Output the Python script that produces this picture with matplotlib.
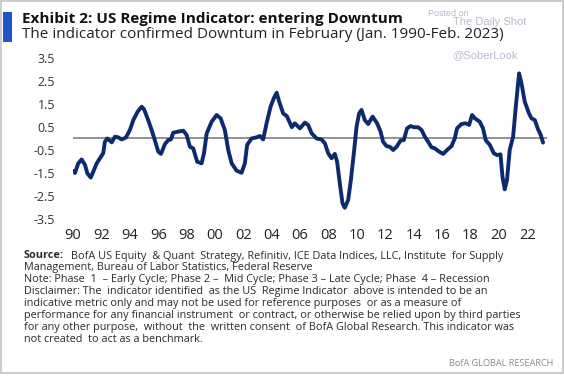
import matplotlib
matplotlib.use('Agg')
import matplotlib.pyplot as plt
from matplotlib.patches import Rectangle

plt.rcParams['font.family'] = 'Open Sans'

# US Regime Indicator (decimal year, value)
years = [1990.00, 1990.14, 1990.37, 1990.61, 1990.85, 1991.01, 1991.25, 1991.43, 1991.67, 1991.90,
         1992.13, 1992.25, 1992.42, 1992.73, 1992.96, 1993.19, 1993.43, 1993.73, 1994.01, 1994.25,
         1994.56, 1994.84, 1995.00, 1995.30, 1995.54, 1995.73, 1996.01, 1996.20, 1996.48, 1996.71,
         1996.90, 1997.06, 1997.42, 1997.77, 1998.01, 1998.24, 1998.47, 1998.75, 1999.06, 1999.23,
         1999.42, 1999.77, 2000.12, 2000.40, 2000.70, 2000.94, 2001.18, 2001.53, 2001.88, 2002.11,
         2002.27, 2002.58, 2002.94, 2003.17, 2003.40, 2003.64, 2003.92, 2004.15, 2004.35, 2004.53,
         2004.81, 2005.07, 2005.42, 2005.63, 2005.99, 2006.34, 2006.57, 2006.81, 2007.16, 2007.51,
         2007.75, 2007.98, 2008.22, 2008.45, 2008.61, 2008.80, 2008.99, 2009.15, 2009.39, 2009.58,
         2009.79, 2009.98, 2010.16, 2010.33, 2010.56, 2010.80, 2011.11, 2011.43, 2011.67, 2011.85,
         2012.09, 2012.32, 2012.56, 2012.80, 2013.08, 2013.31, 2013.54, 2013.78, 2014.04, 2014.32,
         2014.56, 2014.79, 2015.02, 2015.26, 2015.49, 2015.80, 2016.08, 2016.36, 2016.67, 2016.90,
         2017.06, 2017.37, 2017.68, 2017.91, 2018.12, 2018.31, 2018.66, 2018.89, 2019.08, 2019.37,
         2019.65, 2019.88, 2020.12, 2020.26, 2020.42, 2020.58, 2020.77, 2021.01, 2021.20, 2021.43,
         2021.60, 2021.83, 2022.13, 2022.30, 2022.54, 2022.77, 2022.96, 2023.12]
indicator = [-1.41, -1.50, -1.08, -0.91, -1.15, -1.51, -1.70, -1.44, -1.08, -0.86,
             -0.64, -0.14, 0.00, -0.17, 0.08, 0.05, -0.04, 0.04, 0.37, 0.80,
             1.17, 1.38, 1.28, 0.80, 0.37, 0.00, -0.57, -0.67, -0.24, -0.07,
             -0.04, 0.25, 0.30, 0.34, 0.15, -0.36, -0.43, -1.01, -1.08, -0.64,
             0.22, 0.73, 1.02, 0.88, 0.37, -0.50, -1.08, -1.40, -1.49, -1.08,
             -0.28, 0.00, 0.05, 0.11, -0.04, 0.66, 1.38, 1.75, 1.99, 1.60,
             1.09, 0.97, 0.49, 0.66, 0.44, 0.69, 0.59, 0.23, 0.00, -0.04,
             -0.21, -0.64, -0.86, -0.67, -1.01, -1.95, -2.82, -3.01, -2.67, -1.80,
             -0.64, 0.51, 1.09, 1.24, 0.80, 0.63, 0.95, 0.66, 0.30, -0.14,
             -0.33, -0.36, -0.50, -0.36, -0.09, -0.07, 0.44, 0.54, 0.49, 0.49,
             0.37, 0.08, -0.14, -0.38, -0.43, -0.57, -0.67, -0.50, -0.33, 0.00,
             0.44, 0.63, 0.66, 0.59, 1.02, 0.88, 0.73, 0.44, -0.07, -0.28,
             -0.64, -0.72, -0.69, -1.66, -2.21, -1.80, -0.50, 0.08, 1.38, 2.83,
             2.40, 1.60, 1.09, 0.88, 0.80, 0.40, 0.15, -0.18]

ytick_vals = [3.5, 2.5, 1.5, 0.5, -0.5, -1.5, -2.5, -3.5]
xtick_years = list(range(1990, 2023, 2))
xtick_labels = [f'{y % 100:02d}' for y in xtick_years]

LINE_COLOR = '#0c2b6e'
TEXT_COLOR = '#2b2b2b'

fig = plt.figure(figsize=(5.64, 3.76), dpi=100)

# outer frame and blue tag
fig.patches.append(Rectangle((0.002, 0.008), 0.996, 0.99, transform=fig.transFigure,
                             fill=False, edgecolor='#c4c4c4', linewidth=1.2))
fig.patches.append(Rectangle((3 / 564, 1 - 42 / 376), 9 / 564, 30 / 376, transform=fig.transFigure,
                             facecolor='#1f55c8', edgecolor='none'))

ax = fig.add_axes([0.1294, 0.4114, 0.8405, 0.4405])
ax.plot(years, indicator, color=LINE_COLOR, linewidth=2.8, solid_capstyle='round',
        solid_joinstyle='round', zorder=3)
ax.axhline(0, color='#7f7f7f', linewidth=1.2, zorder=2)

ax.set_xlim(1990, 2023.4)
ax.set_ylim(-3.6, 3.6)
ax.set_yticks(ytick_vals)
ax.set_yticklabels([f'{v:.1f}' for v in ytick_vals])
ax.set_xticks(xtick_years)
ax.set_xticklabels(xtick_labels)
ax.tick_params(axis='y', length=0, pad=13, labelsize=9, labelcolor='#333333')
ax.tick_params(axis='x', length=0, pad=5, labelsize=10.5, labelcolor='#222222')
for s in ax.spines.values():
    s.set_visible(False)

# titles
fig.text(22 / 564, 1 - 19 / 376, 'Exhibit 2: US Regime Indicator: entering Downtum',
         fontsize=11, fontweight='bold', color='#111111', va='center')
fig.text(22 / 564, 1 - 35 / 376, 'The indicator confirmed Downtum in February (Jan. 1990-Feb. 2023)',
         fontsize=11, color='#222222', va='center')

# watermark
wm = '#b4bccb'
fig.text(428 / 564, 1 - 13 / 376, 'Posted on', fontsize=6.5, color=wm, va='center',
         family='Liberation Sans')
fig.text(453 / 564, 1 - 22 / 376, 'The Daily Shot', fontsize=8, color=wm, va='center',
         family='Liberation Sans')
fig.text(452 / 564, 1 - 55 / 376, '@SoberLook', fontsize=8, color=wm, va='center',
         family='Liberation Sans')

# footnotes
notes = [
    'Management, Bureau of Labor Statistics, Federal Reserve',
    'Note: Phase  1  \u2013 Early Cycle; Phase 2 \u2013  Mid Cycle; Phase 3 \u2013 Late Cycle; Phase  4 \u2013 Recession',
    'Disclaimer: The  indicator identified  as the US  Regime Indicator  above is intended to be an',
    'indicative metric only and may not be used for reference purposes  or as a measure of',
    'performance for any financial instrument  or contract, or otherwise be relied upon by third parties',
    'for any other purpose,  without  the  written consent  of BofA Global Research. This indicator was',
    'not created  to act as a benchmark.',
]
fs = 7.8
y0 = 256
dy = 11.9
fig.text(24 / 564, 1 - y0 / 376, 'Source:', fontsize=fs, fontweight='bold',
         color=TEXT_COLOR, va='center')
fig.text(71 / 564, 1 - y0 / 376,
         'BofA US Equity  & Quant  Strategy, Refinitiv, ICE Data Indices, LLC, Institute  for Supply',
         fontsize=fs, color=TEXT_COLOR, va='center')
for i, line in enumerate(notes):
    fig.text(24 / 564, 1 - (y0 + dy * (i + 1)) / 376, line, fontsize=fs,
             color=TEXT_COLOR, va='center')

fig.text(553 / 564, 1 - 364 / 376, 'BofA GLOBAL RESEARCH', fontsize=6.6, color='#8a8a8a',
         ha='right', va='center')

fig.savefig('out.png', dpi=100)
